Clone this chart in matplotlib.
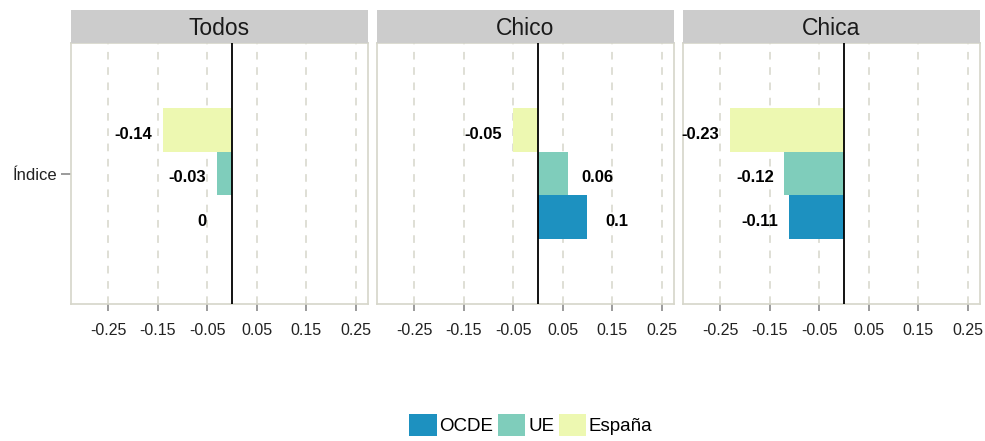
import numpy as np
import matplotlib
matplotlib.use('Agg')
import matplotlib.pyplot as plt
from matplotlib.patches import Patch

plt.rcParams['font.family'] = ['Liberation Sans', 'DejaVu Sans']

# data
panels = ['Todos', 'Chico', 'Chica']
series = ['OCDE', 'UE', 'España']
colors = ['#1D91C0', '#7FCDBB', '#EDF8B1']
ocde = [0.0, 0.10, -0.11]
ue = [-0.03, 0.06, -0.12]
espana = [-0.14, -0.05, -0.23]
category = 'Índice'
xticks = [-0.25, -0.15, -0.05, 0.05, 0.15, 0.25]
xticklabels = ['-0.25', '-0.15', '-0.05', '0.05', '0.15', '0.25']

values = [ocde, ue, espana]

fig = plt.figure(figsize=(9.85, 4.41), dpi=100)
W, H = 985, 441
lefts = [71, 377, 683]
pw = 297
ptop, pbot = 43, 304
stop = 10

grid_c = '#D6D6CA'
bar_h = 0.3
offsets = [-0.3, 0.0, 0.3]

for i, name in enumerate(panels):
    ax = fig.add_axes([lefts[i] / W, 1 - pbot / H, pw / W, (pbot - ptop) / H])
    ax.set_xlim(-0.325, 0.275)
    ax.set_ylim(0.1, 1.9)
    for x in xticks:
        ax.axvline(x, color=grid_c, lw=1.1, ls=(0, (5, 5)), zorder=0)
    for j, s in enumerate(series):
        v = values[j][i]
        ax.barh(1 + offsets[j], v, height=bar_h, color=colors[j], zorder=2)
        lx = v + 0.06 if v > 0 else v - 0.06
        # labels sit a touch below bar centre, like the original
        ax.text(lx, 1 + offsets[j] - 0.03, '%g' % v, ha='center', va='center',
                fontsize=12, fontweight='bold', color='black', zorder=4)
    ax.axvline(0, color='black', lw=1.3, zorder=3)
    for sp in ax.spines.values():
        sp.set_color(grid_c)
        sp.set_linewidth(1.2)
    ax.set_xticks(xticks)
    ax.set_xticklabels(xticklabels, fontsize=11.5, color='#222222')
    ax.tick_params(axis='x', length=5, width=1.1, color='#808080', pad=9)
    if i == 0:
        ax.set_yticks([1])
        ax.set_yticklabels([category], fontsize=12, color='#222222')
        ax.tick_params(axis='y', length=7, width=1.1, color='#808080', pad=3)
    else:
        ax.set_yticks([])
    # strip
    sax = fig.add_axes([lefts[i] / W, 1 - ptop / H, pw / W, (ptop - stop) / H])
    sax.set_facecolor('#CCCCCC')
    sax.set_xticks([])
    sax.set_yticks([])
    for sp in sax.spines.values():
        sp.set_visible(False)
    sax.text(0.5, 0.45, name, ha='center', va='center', fontsize=16.5,
             color='#1A1A1A', transform=sax.transAxes)

handles = [Patch(facecolor=c, edgecolor='none') for c in colors]
fig.legend(handles, series, loc='center', bbox_to_anchor=(0.539, 0.036),
           ncol=3, frameon=False, fontsize=13.5, handlelength=1.45,
           handleheight=1.4, handletextpad=0.15, columnspacing=0.25)

fig.savefig('out.png', dpi=100)
